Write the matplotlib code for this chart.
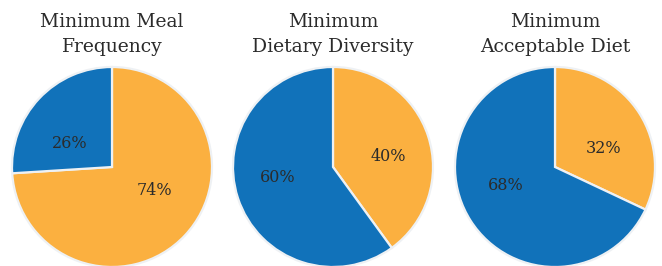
import numpy as np
import matplotlib
matplotlib.use("Agg")
import matplotlib.pyplot as plt

plt.rcParams['font.family'] = ['DejaVu Serif']

# data
titles = ["Minimum Meal\nFrequency", "Minimum\nDietary Diversity", "Minimum\nAcceptable Diet"]
orange_share = [74, 40, 32]
blue_share = [26, 60, 68]

orange = "#FBB040"
blue = "#1172BA"
edge = "#EEF1F4"

W, H = 662, 266
fig = plt.figure(figsize=(W / 100, H / 100), dpi=100)

centers_x = [112, 333, 555]
radius = 100
for cx, title, o, b in zip(centers_x, titles, orange_share, blue_share):
    ax = fig.add_axes([(cx - radius) / W, (99 - radius) / H, 2 * radius / W, 2 * radius / H])
    wedges, texts, autotexts = ax.pie(
        [o, b], colors=[orange, blue], startangle=90, counterclock=False,
        autopct='%d%%', pctdistance=0.58,
        wedgeprops=dict(edgecolor=edge, linewidth=1.6),
        textprops=dict(fontsize=11.5, color="#2b2b2b"))
    for t in autotexts:
        x, y = t.get_position()
        t.set_position((x, y * 0.6))
    ax.set_xlim(-1, 1)
    ax.set_ylim(-1, 1)
    ax.set_aspect('equal')
    ax.axis('off')
    fig.text(cx / W, 1 - 13 / H, title, ha='center', va='top',
             fontsize=13.5, color="#2b2b2b", linespacing=1.5)

plt.savefig("out.png", dpi=100)
